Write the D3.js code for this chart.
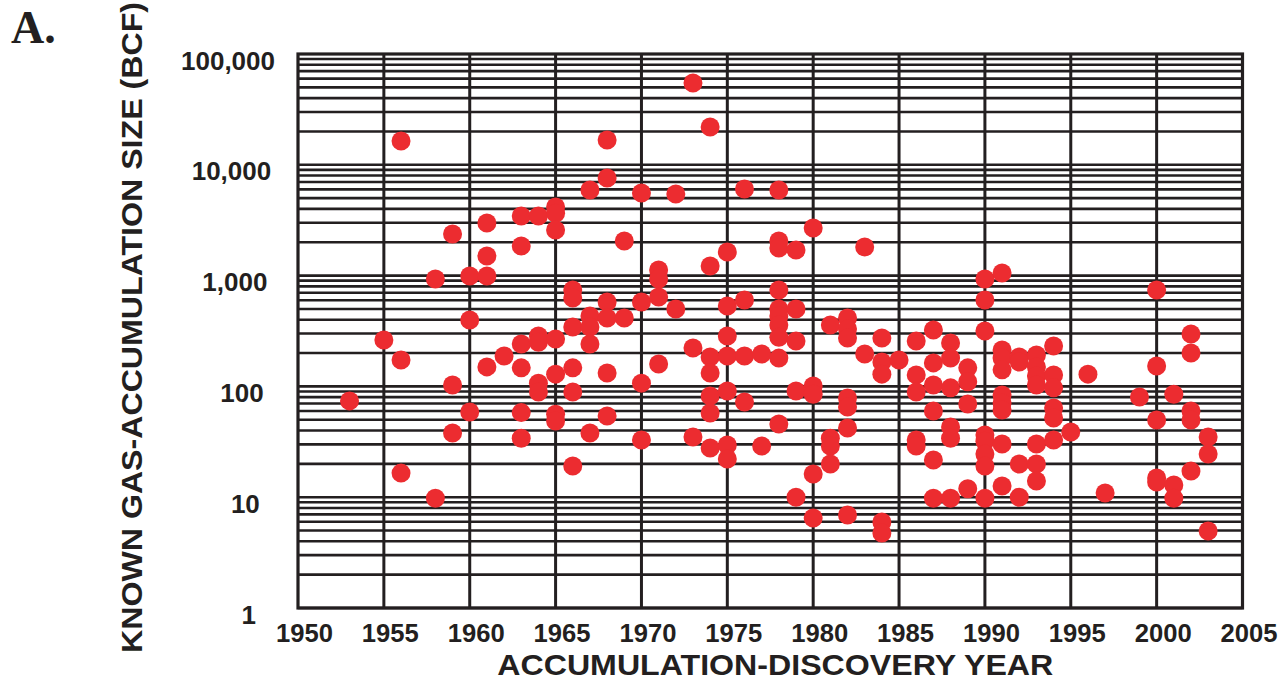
<!DOCTYPE html>
<html>
<head>
<meta charset="utf-8">
<script src="https://cdn.jsdelivr.net/npm/d3@7"></script>
<style>
  html, body { margin: 0; padding: 0; background: #fff; }
  svg { display: block; }
  .tick text { font-family: "Liberation Sans", Arial, sans-serif; font-weight: bold; fill: #231f20; }
</style>
</head>
<body>
<div id="chart"></div>
<script>
// Known gas-accumulation size vs discovery year

// discovery years, one entry per accumulation
var discoveryYear = [
    1953,
    1955,
    1956, 1956, 1956,
    1958, 1958,
    1959, 1959, 1959,
    1960, 1960, 1960,
    1961, 1961, 1961, 1961,
    1962,
    1963, 1963, 1963, 1963, 1963, 1963,
    1964, 1964, 1964, 1964, 1964,
    1965, 1965, 1965, 1965, 1965, 1965, 1965,
    1966, 1966, 1966, 1966, 1966, 1966,
    1967, 1967, 1967, 1967, 1967,
    1968, 1968, 1968, 1968, 1968, 1968,
    1969, 1969,
    1970, 1970, 1970, 1970,
    1971, 1971, 1971, 1971,
    1972, 1972,
    1973, 1973, 1973,
    1974, 1974, 1974, 1974, 1974, 1974, 1974,
    1975, 1975, 1975, 1975, 1975, 1975, 1975,
    1976, 1976, 1976, 1976,
    1977, 1977,
    1978, 1978, 1978, 1978, 1978, 1978, 1978, 1978, 1978, 1978,
    1979, 1979, 1979, 1979, 1979,
    1980, 1980, 1980, 1980, 1980,
    1981, 1981, 1981, 1981,
    1982, 1982, 1982, 1982, 1982, 1982, 1982,
    1983, 1983,
    1984, 1984, 1984, 1984, 1984,
    1985,
    1986, 1986, 1986, 1986, 1986,
    1987, 1987, 1987, 1987, 1987, 1987,
    1988, 1988, 1988, 1988, 1988, 1988,
    1989, 1989, 1989, 1989,
    1990, 1990, 1990, 1990, 1990, 1990, 1990, 1990,
    1991, 1991, 1991, 1991, 1991, 1991, 1991, 1991, 1991,
    1992, 1992, 1992, 1992,
    1993, 1993, 1993, 1993, 1993, 1993, 1993,
    1994, 1994, 1994, 1994, 1994, 1994,
    1995,
    1996,
    1997,
    1999,
    2000, 2000, 2000, 2000, 2000,
    2001, 2001, 2001,
    2002, 2002, 2002, 2002, 2002,
    2003, 2003, 2003
];

// known accumulation size in BCF, same order as discoveryYear
var gasSize = [
    74,
    262,
    16400, 173, 16.5,
    931, 9.8,
    2372, 103, 38,
    992, 397, 58.7,
    2985, 1503, 990, 150,
    188,
    3450, 1850, 241, 147, 58, 34,
    3450, 285, 250, 107, 89,
    4160, 3650, 2580, 268, 129, 56, 48.7,
    741, 628, 344, 147, 89, 19.1,
    5930, 432, 344, 241, 38,
    16750, 7600, 578, 414, 132, 54,
    2052, 414,
    5565, 578, 107, 32.8,
    1124, 931, 641, 159,
    5450, 500,
    54700, 222, 35,
    21900, 1221, 184, 132, 82, 57.5, 27.8,
    1633, 532, 285, 188, 91, 29.6, 22.1,
    6050, 602, 188, 72.3,
    196, 29,
    5930, 2052, 1775, 741, 500, 432, 358, 277, 180, 45.8,
    1702, 500, 257, 91, 10,
    2690, 101, 85, 16.2, 6.5,
    358, 34, 29, 19.9,
    414, 330, 273, 78.6, 65.2, 42.1, 6.9,
    1812, 196,
    273, 166, 129, 5.97, 4.75,
    173,
    257, 127, 89, 32.8, 29,
    323, 163, 103, 60, 21.7, 9.8,
    247, 180, 97, 43, 34, 9.8,
    147, 110, 69.4, 11.9,
    931, 602, 316, 36.4, 32, 24.5, 19.1, 9.8,
    1055, 213, 180, 141, 83.6, 70.8, 61.2, 30.2, 12.6,
    184, 166, 19.9, 10,
    192, 150, 124, 103, 30.2, 19.9, 14,
    232, 127, 97, 63.8, 51.9, 32.8,
    38.8,
    129,
    10.9,
    80.2,
    741, 153, 49.7, 14.9, 13.7,
    85, 12.9, 9.8,
    297, 200, 60, 49.7, 17.2,
    35, 24.5, 4.96
];

// axis ticks
var xTickValues = [1950, 1955, 1960, 1965, 1970, 1975, 1980, 1985, 1990, 1995, 2000, 2005];
var yTickValues = [1, 10, 100, 1000, 10000, 100000];

// Page / plot box
var width = 1283;
var height = 681;
var plotLeft = 298;
var plotRight = 1242.5;
var plotTop = 54;
var plotBottom = 608;
var ink = "#231f20";
var dotColor = "#ec2c30";
var dotRadius = 9.5;

var svg = d3
    .select("#chart")
    .append("svg")
    .attr("width", width)
    .attr("height", height);

// Scales
var xScale = d3
    .scaleLinear()
    .domain([1950, 2005])
    .range([plotLeft, plotRight]);
var yScale = d3
    .scaleLog()
    .domain([1, 100000])
    .range([plotBottom, plotTop]);

// GRID

// log grid lines: 1..9 in every decade
var hLines = [];
for (var d = 0; d < 5; d++) {
    for (var k = 1; k <= 9; k++) {
        hLines.push(k * Math.pow(10, d));
    }
}
svg.append("g")
    .attr("class", "hgrid")
    .selectAll("line")
    .data(hLines)
    .enter()
    .append("line")
    .attr("x1", plotLeft)
    .attr("x2", plotRight)
    .attr("y1", function(v) { return yScale(v); })
    .attr("y2", function(v) { return yScale(v); })
    .attr("stroke", ink)
    .attr("stroke-width", 2.6);

// vertical lines every 5 years
svg.append("g")
    .attr("class", "vgrid")
    .selectAll("line")
    .data(xTickValues.slice(1, -1))
    .enter()
    .append("line")
    .attr("x1", function(v) { return xScale(v); })
    .attr("x2", function(v) { return xScale(v); })
    .attr("y1", plotTop)
    .attr("y2", plotBottom)
    .attr("stroke", ink)
    .attr("stroke-width", 3);

// plot border
svg.append("rect")
    .attr("x", plotLeft)
    .attr("y", plotTop)
    .attr("width", plotRight - plotLeft)
    .attr("height", plotBottom - plotTop)
    .attr("fill", "none")
    .attr("stroke", ink)
    .attr("stroke-width", 3.2);

// AXES (labels only)

var xAxis = d3.axisBottom(xScale)
    .tickValues(xTickValues)
    .tickFormat(d3.format("d"))
    .tickSize(0);
var gx = svg.append("g")
    .attr("class", "xAxis")
    .attr("transform", "translate(0," + plotBottom + ")")
    .call(xAxis);
gx.select(".domain").remove();
gx.selectAll("text")
    .attr("x", 6)
    .attr("y", 34)
    .attr("dy", 0)
    .attr("textLength", 57)
    .attr("lengthAdjust", "spacingAndGlyphs")
    .style("font-size", "25px");

var yAxis = d3.axisLeft(yScale)
    .tickValues(yTickValues)
    .tickFormat(d3.format(","))
    .tickSize(0);
var gy = svg.append("g")
    .attr("class", "yAxis")
    .attr("transform", "translate(" + plotLeft + ",0)")
    .call(yAxis);
gy.select(".domain").remove();
// labels sit a little further left toward the bottom of the axis
gy.selectAll("text")
    .attr("x", function(v) { return -42 + 3.8 * Math.log10(v); })
    .attr("dy", 0)
    .attr("y", 15)
    .style("font-size", "26px");

// POINTS

svg.append("g")
    .attr("class", "dots")
    .selectAll("circle")
    .data(discoveryYear)
    .enter()
    .append("circle")
    .attr("cx", function(yr) { return xScale(yr); })
    .attr("cy", function(yr, i) { return yScale(gasSize[i]); })
    .attr("r", dotRadius)
    .attr("fill", dotColor);

// TITLES

svg.append("text")
    .attr("x", (plotLeft + plotRight) / 2 + 5)
    .attr("y", 674.5)
    .attr("text-anchor", "middle")
    .style("font-family", "'Liberation Sans', Arial, sans-serif")
    .style("font-weight", "bold")
    .style("font-size", "30px")
    .attr("textLength", 556)
    .attr("lengthAdjust", "spacingAndGlyphs")
    .attr("fill", ink)
    .text("ACCUMULATION-DISCOVERY YEAR");

svg.append("text")
    .attr("transform", "translate(142," + 327.5 + ")rotate(-90)")
    .attr("text-anchor", "middle")
    .attr("textLength", 651)
    .attr("lengthAdjust", "spacingAndGlyphs")
    .style("font-family", "'Liberation Sans', Arial, sans-serif")
    .style("font-weight", "bold")
    .style("font-size", "29px")
    .attr("fill", ink)
    .text("KNOWN GAS-ACCUMULATION SIZE (BCF)");

// panel letter
svg.append("text")
    .attr("x", 11)
    .attr("y", 43)
    .style("font-family", "'Liberation Serif', 'Times New Roman', serif")
    .style("font-weight", "bold")
    .style("font-size", "46px")
    .attr("fill", ink)
    .text("A.");
</script>
</body>
</html>
